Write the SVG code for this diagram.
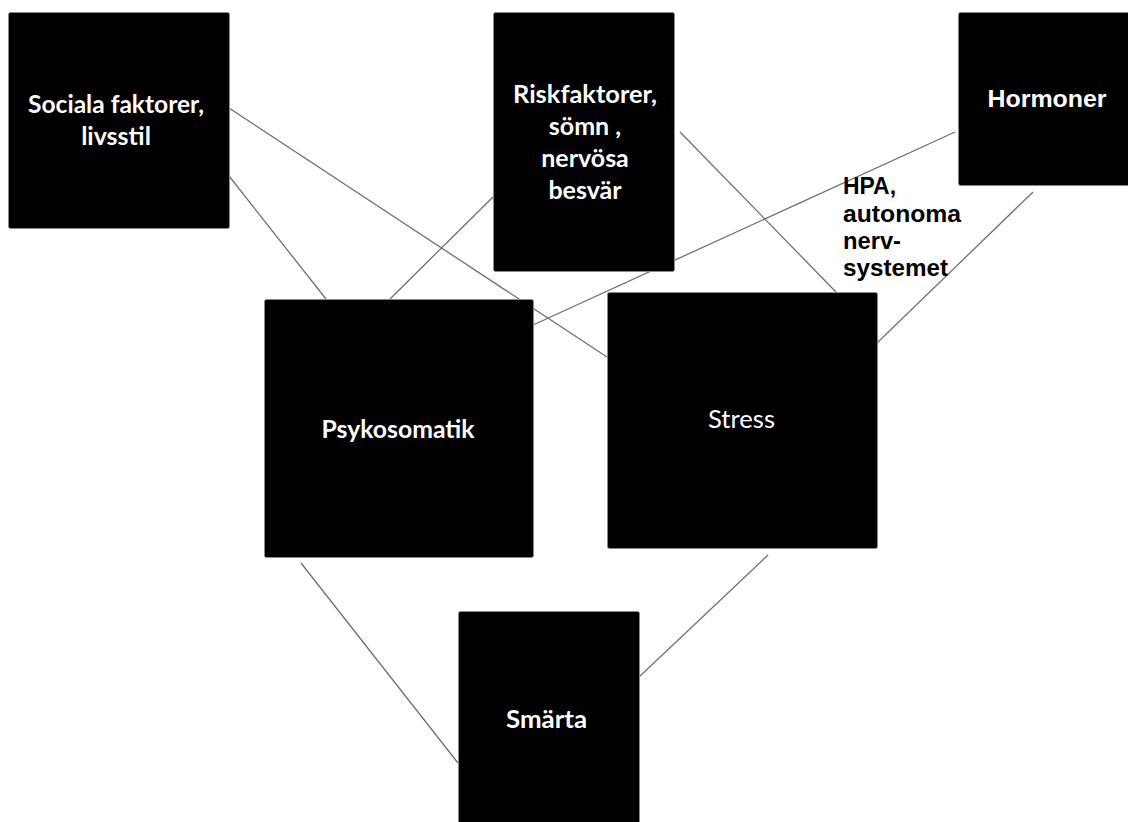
<svg xmlns="http://www.w3.org/2000/svg" width="1128" height="822" viewBox="0 0 1128 822">
<style>
.box{fill:#000;stroke:#8a8a8a;stroke-width:1}
.lbl{fill:#fff;font-family:Lato,"Open Sans","Liberation Sans",sans-serif;font-weight:bold;font-size:25px;text-anchor:middle}
.reg{font-weight:normal}
.ar{font-family:"Liberation Sans",Arial,sans-serif;font-size:24px}
.hpa{fill:#000;font-family:"Liberation Sans",Arial,sans-serif;font-weight:bold;font-size:23px}
.con line{stroke:#707070;stroke-width:1.3;fill:none}
</style>
<rect width="1128" height="822" fill="#fff"/>
<g id="connectors" class="con">
<line x1="229" y1="108" x2="607" y2="357"/>
<line x1="229" y1="176" x2="326" y2="299"/>
<line x1="493" y1="197" x2="390" y2="299"/>
<line x1="680" y1="132" x2="836" y2="292"/>
<line x1="955" y1="132" x2="533" y2="325"/>
<line x1="1033" y1="192" x2="877" y2="343"/>
<line x1="301" y1="563" x2="458" y2="763"/>
<line x1="768" y1="555" x2="639" y2="677"/>
</g>
<g id="n-sociala">
<rect class="box" x="8.5" y="12.5" width="221" height="216" rx="2"/>
<text class="lbl" x="116" y="113" textLength="176" lengthAdjust="spacingAndGlyphs">Sociala faktorer,</text>
<text class="lbl" x="116" y="145">livsstil</text>
</g>
<g id="n-risk">
<rect class="box" x="493.5" y="12.5" width="181" height="259" rx="2"/>
<text class="lbl" x="585" y="103" textLength="144" lengthAdjust="spacingAndGlyphs">Riskfaktorer,</text>
<text class="lbl" x="585" y="135">sömn ,</text>
<text class="lbl" x="585" y="167">nervösa</text>
<text class="lbl" x="585" y="199">besvär</text>
</g>
<g id="n-hormoner">
<rect class="box" x="958.5" y="12.5" width="172" height="173" rx="2"/>
<text class="lbl ar" x="1047" y="107" textLength="119" lengthAdjust="spacingAndGlyphs">Hormoner</text>
</g>
<g id="n-psykosomatik">
<rect class="box" x="264.5" y="299.5" width="269" height="258" rx="2"/>
<text class="lbl" x="398" y="438" textLength="153" lengthAdjust="spacingAndGlyphs">Psykosomatik</text>
</g>
<g id="n-stress">
<rect class="box" x="607.5" y="292.5" width="270" height="256" rx="2"/>
<text class="lbl reg" x="741.5" y="428" textLength="67" lengthAdjust="spacingAndGlyphs">Stress</text>
</g>
<g id="n-smarta">
<rect class="box" x="458.5" y="611.5" width="181" height="220" rx="2"/>
<text class="lbl" x="546.5" y="728" textLength="81" lengthAdjust="spacingAndGlyphs">Smärta</text>
</g>
<g id="label-hpa">
<text class="hpa" x="843" y="194" textLength="53" lengthAdjust="spacingAndGlyphs">HPA,</text>
<text class="hpa" x="843" y="222" textLength="118" lengthAdjust="spacingAndGlyphs">autonoma</text>
<text class="hpa" x="843" y="249" textLength="58" lengthAdjust="spacingAndGlyphs">nerv-</text>
<text class="hpa" x="843" y="276" textLength="105" lengthAdjust="spacingAndGlyphs">systemet</text>
</g>
</svg>
